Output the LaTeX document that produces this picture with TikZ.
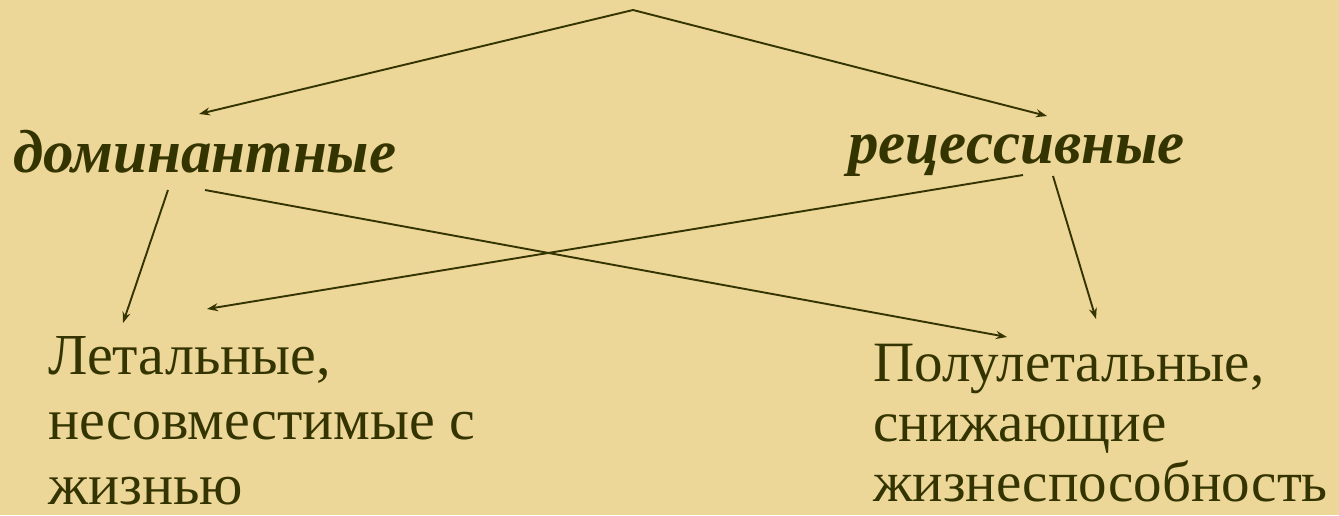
\documentclass[tikz,border=0pt]{standalone}
\usepackage{fontspec}
\setmainfont{Liberation Serif}
\usetikzlibrary{arrows.meta}
\definecolor{ink}{RGB}{52,52,0}
\definecolor{parch}{RGB}{236,214,152}

\begin{document}
\begin{tikzpicture}[x=1pt,y=-1pt,
  lbl/.style={anchor=base west,inner sep=0pt,text=ink,font=\fontsize{61}{61}\selectfont\bfseries\itshape},
  body/.style={anchor=north west,inner sep=0pt,text=ink,align=left},
  arr/.style={draw=ink,line width=1.9pt,-{Stealth[length=11pt,width=8pt]}}]
  \useasboundingbox (0,0) rectangle (1339,515);
  \fill[parch] (0,0) rectangle (1339,515);
  \coordinate (top) at (633,10);
  \node[lbl] (dom) at (13,172){доминантные};
  \node[lbl] (rec) at (848,163){рецессивные};
  \node[body,font=\fontsize{58}{65}\selectfont] (let) at (48,336){Летальные,\\несовместимые с\\жизнью};
  \node[body,font=\fontsize{57}{60}\selectfont] (semi) at (873,344){Полулетальные,\\снижающие\\жизнеспособность};
  \draw[arr] (top) -- ([shift={(186,-58)}]dom.base west);
  \draw[arr] (top) -- ([shift={(199,-47)}]rec.base west);
  \draw[arr] ([shift={(155,18)}]dom.base west) -- ([shift={(75,-13)}]let.north west);
  \draw[arr] ([shift={(192,18)}]dom.base west) -- ([shift={(134,-7)}]semi.north west);
  \draw[arr] ([shift={(175,12)}]rec.base west) -- ([shift={(159,-27)}]let.north west);
  \draw[arr] ([shift={(205,13)}]rec.base west) -- ([shift={(223,-25)}]semi.north west);
\end{tikzpicture}
\end{document}
